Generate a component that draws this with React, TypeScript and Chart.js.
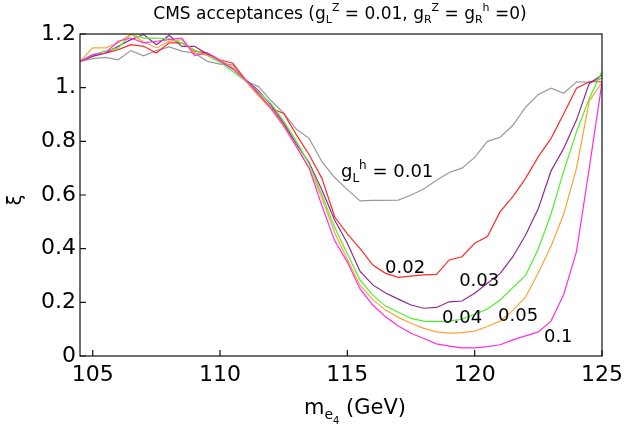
import React, { useEffect, useRef } from 'react';
import { Chart, registerables } from 'chart.js';

Chart.register(...registerables);

// Higgs-like mass points (GeV)
const masses = [
  104.5, 105, 105.5, 106, 106.5, 107, 107.5, 108, 108.5, 109, 109.5, 110, 110.5, 111,
  111.5, 112, 112.5, 113, 113.5, 114, 114.5, 115, 115.5, 116, 116.5, 117, 117.5, 118,
  118.5, 119, 119.5, 120, 120.5, 121, 121.5, 122, 122.5, 123, 123.5, 124, 124.5, 125,
];

// acceptance ratio xi for each g_L^h value
const xi001 = [
  1.098, 1.108, 1.113, 1.104, 1.138, 1.119, 1.138, 1.152, 1.136, 1.129, 1.098, 1.088, 1.085, 1.025,
  1.005, 0.952, 0.905, 0.845, 0.811, 0.724, 0.665, 0.62, 0.578, 0.58, 0.58, 0.581, 0.6, 0.622,
  0.655, 0.684, 0.7, 0.74, 0.8, 0.815, 0.86, 0.927, 0.975, 0.998, 0.979, 1.022, 1.02, 1.035,
];
const xi002 = [
  1.098, 1.117, 1.129, 1.142, 1.16, 1.154, 1.129, 1.167, 1.167, 1.136, 1.129, 1.104, 1.091, 1.03,
  0.973, 0.923, 0.904, 0.824, 0.75, 0.662, 0.519, 0.455, 0.4, 0.339, 0.308, 0.293, 0.298, 0.302,
  0.304, 0.358, 0.37, 0.42, 0.445, 0.538, 0.594, 0.662, 0.743, 0.811, 0.904, 0.998, 1.022, 1.022,
];
const xi003 = [
  1.098, 1.117, 1.129, 1.154, 1.179, 1.198, 1.16, 1.195, 1.154, 1.154, 1.125, 1.1, 1.07, 1.03,
  0.99, 0.935, 0.867, 0.79, 0.72, 0.619, 0.507, 0.42, 0.315, 0.265, 0.235, 0.212, 0.19, 0.178,
  0.181, 0.202, 0.205, 0.234, 0.271, 0.308, 0.37, 0.451, 0.55, 0.69, 0.774, 0.88, 1.016, 1.047,
];
const xi004 = [
  1.098, 1.123, 1.136, 1.148, 1.198, 1.185, 1.185, 1.182, 1.167, 1.14, 1.12, 1.095, 1.06, 1.025,
  0.985, 0.94, 0.875, 0.8, 0.715, 0.6, 0.48, 0.38, 0.283, 0.227, 0.186, 0.163, 0.14, 0.13,
  0.128, 0.13, 0.137, 0.155, 0.175, 0.209, 0.255, 0.3, 0.4, 0.53, 0.69, 0.836, 0.96, 1.06,
];
const xi005 = [
  1.098, 1.148, 1.148, 1.167, 1.2, 1.17, 1.148, 1.173, 1.179, 1.13, 1.12, 1.105, 1.075, 1.025,
  0.97, 0.92, 0.855, 0.78, 0.7, 0.59, 0.46, 0.36, 0.264, 0.21, 0.171, 0.144, 0.122, 0.103,
  0.09, 0.085, 0.087, 0.093, 0.11, 0.13, 0.17, 0.22, 0.31, 0.41, 0.53, 0.7, 0.95, 1.02,
];
const xi01 = [
  1.098, 1.123, 1.129, 1.173, 1.185, 1.167, 1.173, 1.179, 1.185, 1.12, 1.13, 1.1, 1.07, 1.03,
  0.98, 0.925, 0.86, 0.78, 0.7, 0.56, 0.43, 0.35, 0.25, 0.19, 0.146, 0.112, 0.085, 0.065,
  0.045, 0.037, 0.03, 0.03, 0.035, 0.042, 0.06, 0.075, 0.09, 0.13, 0.23, 0.39, 0.7, 1.02,
];

const seriesValues = [xi001, xi002, xi003, xi004, xi005, xi01];
const seriesNames = ['0.01', '0.02', '0.03', '0.04', '0.05', '0.1'];
const seriesColors = ['#9a9a9a', '#ff2a2a', '#8e2a90', '#4cf02a', '#ffa236', '#ff2ee0'];

const xTicks = [105, 110, 115, 120, 125];
const yTicks = [0, 0.2, 0.4, 0.6, 0.8, 1.0, 1.2];

// in-plot curve labels: [mass, xi] anchor (left, baseline)
const labelMasses = [114.75, 116.48, 119.39, 118.72, 120.92, 122.72];
const labelXi = [0.667, 0.309, 0.261, 0.123, 0.13, 0.052];

const FONT = '"DejaVu Sans", "Liberation Sans", sans-serif';

type Seg = { t: string; size: number; dy?: number };

function drawRich(ctx: CanvasRenderingContext2D, segs: Seg[], x: number, y: number, align: 'left' | 'center') {
  let w = 0;
  for (const s of segs) {
    ctx.font = `${s.size}px ${FONT}`;
    w += ctx.measureText(s.t).width;
  }
  let cx = align === 'center' ? x - w / 2 : x;
  ctx.textAlign = 'left';
  ctx.textBaseline = 'alphabetic';
  for (const s of segs) {
    ctx.font = `${s.size}px ${FONT}`;
    ctx.fillText(s.t, cx, y + (s.dy || 0));
    cx += ctx.measureText(s.t).width;
  }
}

const overlay = {
  id: 'overlay',
  afterDraw(chart: any) {
    const { ctx, chartArea: a, scales } = chart;
    ctx.save();
    // frame
    ctx.strokeStyle = '#111';
    ctx.lineWidth = 1.2;
    ctx.strokeRect(a.left, a.top, a.right - a.left, a.bottom - a.top);
    // inward ticks
    ctx.beginPath();
    for (const v of xTicks) {
      const px = scales.x.getPixelForValue(v);
      ctx.moveTo(px, a.bottom);
      ctx.lineTo(px, a.bottom - 6);
    }
    for (const v of yTicks) {
      const py = scales.y.getPixelForValue(v);
      ctx.moveTo(a.left, py);
      ctx.lineTo(a.left + 6, py);
    }
    ctx.stroke();

    ctx.fillStyle = '#000';
    // title
    drawRich(
      ctx,
      [
        { t: 'CMS acceptances (g', size: 17 },
        { t: 'L', size: 11, dy: 4 },
        { t: 'Z', size: 11, dy: -8 },
        { t: ' = 0.01, g', size: 17 },
        { t: 'R', size: 11, dy: 4 },
        { t: 'Z', size: 11, dy: -8 },
        { t: ' = g', size: 17 },
        { t: 'R', size: 11, dy: 4 },
        { t: 'h', size: 11, dy: -8 },
        { t: ' =0)', size: 17 },
      ],
      340,
      19,
      'center'
    );
    // x title
    drawRich(
      ctx,
      [
        { t: 'm', size: 21 },
        { t: 'e', size: 14, dy: 5 },
        { t: '4', size: 10, dy: 10 },
        { t: ' (GeV)', size: 21 },
      ],
      355,
      414,
      'center'
    );
    // y title
    ctx.save();
    ctx.translate(21, 200);
    ctx.rotate(-Math.PI / 2);
    ctx.font = `19px ${FONT}`;
    ctx.textAlign = 'center';
    ctx.textBaseline = 'alphabetic';
    ctx.fillText('ξ', 0, 0);
    ctx.restore();

    // curve labels
    for (let i = 0; i < seriesNames.length; i++) {
      const px = scales.x.getPixelForValue(labelMasses[i]);
      const py = scales.y.getPixelForValue(labelXi[i]);
      if (i === 0) {
        drawRich(
          ctx,
          [
            { t: 'g', size: 18 },
            { t: 'L', size: 12, dy: 5 },
            { t: 'h', size: 12, dy: -8 },
            { t: ' = ' + seriesNames[i], size: 18 },
          ],
          px,
          py,
          'left'
        );
      } else {
        drawRich(ctx, [{ t: seriesNames[i], size: 18 }], px, py, 'left');
      }
    }
    ctx.restore();
  },
};

export default function App() {
  const ref = useRef<HTMLCanvasElement | null>(null);
  useEffect(() => {
    if (!ref.current) return;
    const chart = new Chart(ref.current, {
      type: 'line',
      data: {
        datasets: seriesValues.map((vals, i) => ({
          label: seriesNames[i],
          data: masses.map((m, j) => ({ x: m, y: vals[j] })),
          borderColor: seriesColors[i],
          backgroundColor: seriesColors[i],
          borderWidth: 1.2,
          pointRadius: 0,
          tension: 0,
          fill: false,
          order: seriesValues.length - i,
        })),
      },
      options: {
        animation: false,
        responsive: false,
        events: [],
        layout: { padding: { left: 0, top: 34, right: 22, bottom: 0 } },
        plugins: { legend: { display: false }, tooltip: { enabled: false }, title: { display: false } },
        scales: {
          x: {
            type: 'linear',
            min: 104.5,
            max: 125,
            afterBuildTicks: (s: any) => {
              s.ticks = xTicks.map((v) => ({ value: v }));
            },
            afterFit: (s: any) => {
              s.height = 75;
              s.paddingLeft = 0;
              s.paddingRight = 0;
            },
            grid: { display: false, drawTicks: false },
            border: { display: false },
            ticks: {
              font: { family: FONT, size: 22 },
              color: '#000',
              padding: 6,
              maxRotation: 0,
              autoSkip: false,
              callback: (v: any) => String(v),
            },
          },
          y: {
            type: 'linear',
            min: 0,
            max: 1.2,
            afterBuildTicks: (s: any) => {
              s.ticks = yTicks.map((v) => ({ value: v }));
            },
            afterFit: (s: any) => {
              s.width = 80;
              s.paddingTop = 0;
              s.paddingBottom = 0;
            },
            grid: { display: false, drawTicks: false },
            border: { display: false },
            ticks: {
              font: { family: FONT, size: 22 },
              color: '#000',
              padding: 4,
              autoSkip: false,
              callback: (v: any) => {
                const n = Number(v);
                if (n === 0) return '0';
                if (Math.abs(n - 1) < 1e-9) return '1.';
                return n.toFixed(1);
              },
            },
          },
        },
      },
      plugins: [overlay],
    });
    return () => chart.destroy();
  }, []);
  return (
    <div style={{ position: 'fixed', left: 0, top: 0, width: 624, height: 431, background: '#fff' }}>
      <canvas ref={ref} width={624} height={431} style={{ display: 'block' }} />
    </div>
  );
}
